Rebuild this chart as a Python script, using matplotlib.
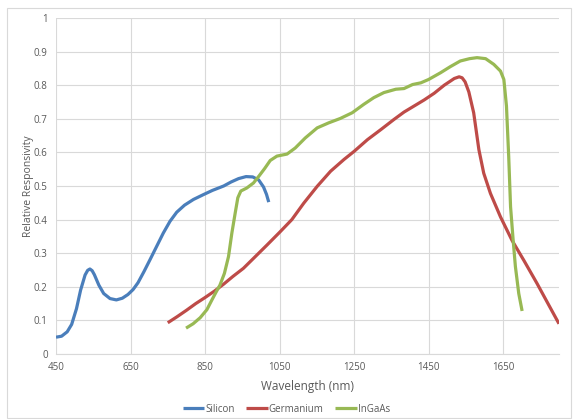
import matplotlib
matplotlib.use('Agg')
import matplotlib.pyplot as plt
from matplotlib.patches import Rectangle

# Silicon
si_wl = [450, 465, 480, 492, 505, 516, 528, 535, 541, 547, 553, 565, 578, 595,
         612, 628, 643, 657, 670, 686, 702, 720, 738, 756, 774, 795, 819, 845,
         870, 900, 920, 940, 960, 978, 994, 1007, 1015, 1021]
si_resp = [0.050, 0.053, 0.066, 0.088, 0.135, 0.190, 0.235, 0.249, 0.253, 0.248,
           0.236, 0.205, 0.180, 0.165, 0.161, 0.166, 0.177, 0.192, 0.212, 0.245,
           0.280, 0.320, 0.360, 0.395, 0.422, 0.443, 0.460, 0.474, 0.487, 0.500,
           0.512, 0.522, 0.528, 0.527, 0.518, 0.497, 0.475, 0.452]

# Germanium
ge_wl = [750, 775, 800, 825, 850, 875, 900, 925, 953, 985, 1016, 1050, 1083,
         1115, 1151, 1187, 1223, 1250, 1286, 1322, 1357, 1384, 1411, 1438, 1465,
         1492, 1519, 1532, 1540, 1548, 1558, 1571, 1585, 1598, 1616, 1643, 1674,
         1706, 1741, 1768, 1800]
ge_resp = [0.093, 0.111, 0.130, 0.150, 0.168, 0.187, 0.208, 0.231, 0.255, 0.290,
           0.324, 0.362, 0.400, 0.449, 0.499, 0.544, 0.579, 0.603, 0.638, 0.668,
           0.698, 0.720, 0.738, 0.756, 0.776, 0.800, 0.820, 0.825, 0.822, 0.810,
           0.780, 0.718, 0.608, 0.538, 0.478, 0.408, 0.338, 0.278, 0.210, 0.155,
           0.090]

# InGaAs
ingaas_wl = [799, 818, 837, 855, 868, 880, 890, 902, 913, 922, 931, 938, 946, 962,
             980, 995, 1010, 1025, 1043, 1070, 1092, 1119, 1151, 1182, 1213, 1245,
             1276, 1303, 1330, 1362, 1384, 1407, 1429, 1450, 1482, 1508, 1535,
             1560, 1580, 1603, 1625, 1643, 1652, 1659, 1665, 1670, 1677, 1683,
             1692, 1701]
ingaas_resp = [0.077, 0.090, 0.108, 0.132, 0.160, 0.185, 0.205, 0.240, 0.290, 0.360,
               0.420, 0.465, 0.485, 0.494, 0.509, 0.530, 0.552, 0.576, 0.589, 0.595,
               0.613, 0.643, 0.673, 0.688, 0.701, 0.718, 0.743, 0.763, 0.778, 0.788,
               0.790, 0.802, 0.807, 0.817, 0.837, 0.855, 0.872, 0.879, 0.882, 0.879,
               0.862, 0.842, 0.817, 0.738, 0.588, 0.438, 0.338, 0.260, 0.180, 0.128]

x_ticks = [450, 650, 850, 1050, 1250, 1450, 1650]
y_ticks = [0, 0.1, 0.2, 0.3, 0.4, 0.5, 0.6, 0.7, 0.8, 0.9, 1]
y_labels = ['0', '0.1', '0.2', '0.3', '0.4', '0.5', '0.6', '0.7', '0.8', '0.9', '1']

plt.rcParams['font.family'] = ['Open Sans', 'DejaVu Sans']
text_col = '#595959'
grid_col = '#d9d9d9'

fig = plt.figure(figsize=(5.73, 4.19), dpi=100)
W, H = 573, 419
ax = fig.add_axes([56 / W, 1 - 354 / H, (559 - 56) / W, (354 - 18) / H])

# chart area border
fig.patches.append(Rectangle((7 / W, 1 / H), (571 - 7) / W, (411 - 1) / H,
                             transform=fig.transFigure, fill=False,
                             edgecolor='#d9d9d9', linewidth=0.8))

lw = 2.3
ax.plot(si_wl, si_resp, color='#4a7ebb', lw=lw, label='Silicon',
        solid_joinstyle='round', solid_capstyle='butt')
ax.plot(ge_wl, ge_resp, color='#be4b48', lw=lw, label='Germanium',
        solid_joinstyle='round', solid_capstyle='butt')
ax.plot(ingaas_wl, ingaas_resp, color='#98b954', lw=lw, label='InGaAs',
        solid_joinstyle='round', solid_capstyle='butt')

ax.set_xlim(450, 1800)
ax.set_ylim(0, 1)
ax.set_xticks(x_ticks)
ax.set_yticks(y_ticks)
ax.set_yticklabels(y_labels)
ax.grid(True, color=grid_col, linewidth=0.8)
ax.set_axisbelow(True)
for s in ['top', 'right', 'left']:
    ax.spines[s].set_visible(False)
ax.spines['bottom'].set_color(grid_col)
ax.tick_params(length=0, labelsize=7, colors=text_col, pad=6)

ax.set_xlabel('Wavelength (nm)', fontsize=8.5, color=text_col, labelpad=5)
ax.set_ylabel('Relative Responsivity', fontsize=7.5, color=text_col)
ax.yaxis.set_label_coords(-0.043, 0.5)

fig.legend(loc='center', bbox_to_anchor=(0.5, 1 - 409 / H), ncol=3, frameon=False,
           fontsize=7, labelcolor=text_col, handlelength=2.2, handletextpad=0.1,
           columnspacing=1.2)

fig.savefig('out.png', dpi=100)
